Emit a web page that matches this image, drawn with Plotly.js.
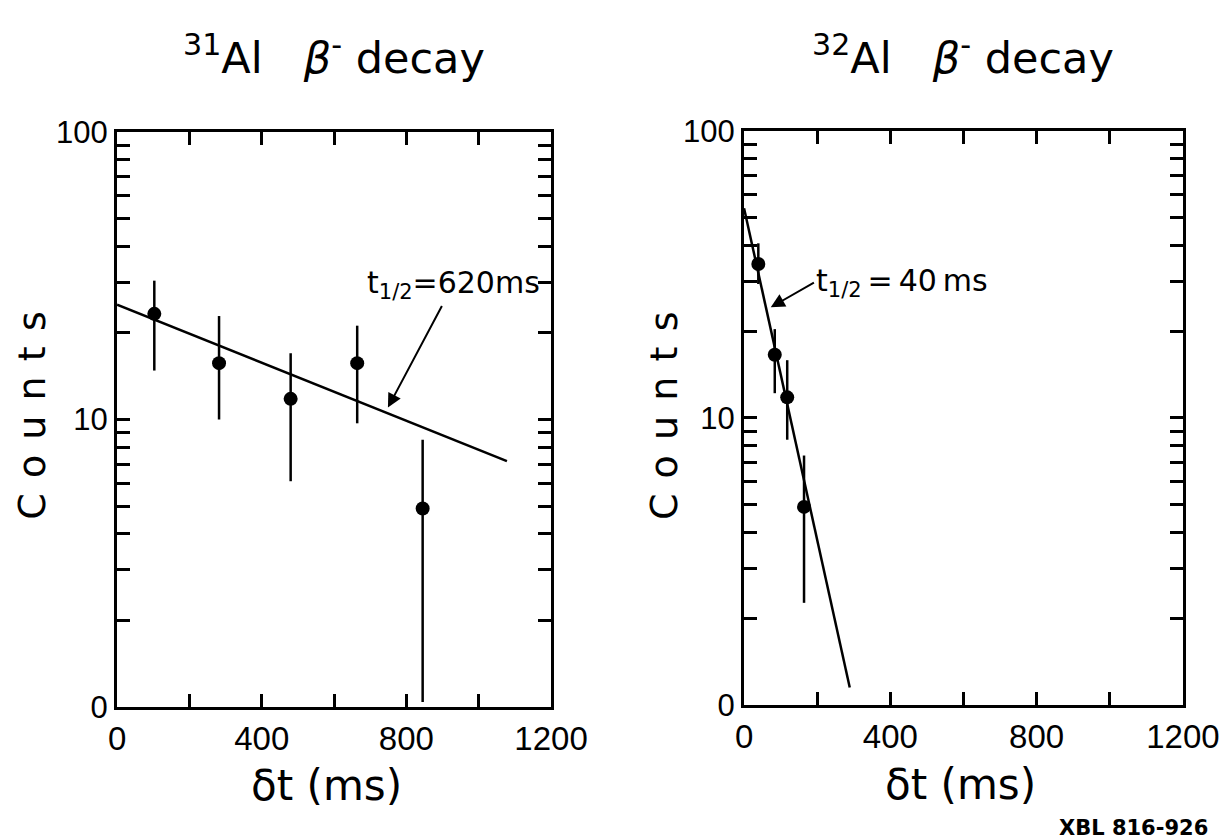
<!DOCTYPE html>
<html>
<head>
<meta charset="utf-8">
<script src="https://cdn.plot.ly/plotly-3.0.1.min.js"></script>
<style>
html,body{margin:0;padding:0;background:#fff;}
#chart{width:1227px;height:839px;}
</style>
</head>
<body>
<div id="chart"></div>
<script>
// ---- data ----
// 31Al panel
const al31X = [103, 282, 480, 664, 845];
const al31Y = [23.3, 15.7, 11.8, 15.7, 4.9];
const al31Hi = [30.4, 22.9, 17.0, 21.2, 8.5];
const al31Lo = [14.8, 10.0, 6.1, 9.7, 1.04];
const al31FitX = [0, 1078];
const al31FitY = [25.1, 7.17];

// 32Al panel
const al32X = [39, 84, 118, 164];
const al32Y = [34.4, 16.6, 11.8, 4.9];
const al32Hi = [40.6, 20.4, 15.9, 7.4];
const al32Lo = [29.3, 12.2, 8.4, 2.27];
const al32FitX = [0, 289];
const al32FitY = [53.8, 1.15];

// axis ticks
const xTickVals = [0, 400, 800, 1200];
const xTickText = ["0", "400", "800", "1200"];
const xMinorVals = [200, 600, 1000];
const yTickVals = [1, 10, 100];
const yTickText = ["0", "10", "100"];
const yMinorVals = [2, 3, 4, 5, 6, 7, 8, 9, 20, 30, 40, 50, 60, 70, 80, 90];

const TICKFONT = "Liberation Sans, Arial, sans-serif";
const FONT = "DejaVu Sans, sans-serif";

function errPlus(y, hi) { return y.map((v, i) => hi[i] - v); }
function errMinus(y, lo) { return y.map((v, i) => v - lo[i]); }

const traces = [
  {x: al31FitX, y: al31FitY, mode: 'lines', line: {color: '#000', width: 2.5}, xaxis: 'x', yaxis: 'y', hoverinfo: 'skip'},
  {x: al31X, y: al31Y, mode: 'markers', marker: {color: '#000', size: 14},
   error_y: {type: 'data', symmetric: false, array: errPlus(al31Y, al31Hi), arrayminus: errMinus(al31Y, al31Lo), width: 0, thickness: 2.5, color: '#000'},
   xaxis: 'x', yaxis: 'y'},
  {x: al32FitX, y: al32FitY, mode: 'lines', line: {color: '#000', width: 2.5}, xaxis: 'x2', yaxis: 'y2', hoverinfo: 'skip'},
  {x: al32X, y: al32Y, mode: 'markers', marker: {color: '#000', size: 14},
   error_y: {type: 'data', symmetric: false, array: errPlus(al32Y, al32Hi), arrayminus: errMinus(al32Y, al32Lo), width: 0, thickness: 2.5, color: '#000'},
   xaxis: 'x2', yaxis: 'y2'}
];

function xAxis(domain, anchor) {
  return {
    domain: domain, anchor: anchor, range: [0, 1200], type: 'linear',
    showline: true, linecolor: '#000', linewidth: 3, mirror: 'ticks',
    ticks: 'inside', ticklen: 13, tickwidth: 3, tickcolor: '#000',
    tickmode: 'array', tickvals: xTickVals, ticktext: xTickText,
    tickfont: {family: TICKFONT, size: 33, color: '#000'},
    showgrid: false, zeroline: false, automargin: false,
    minor: {tickmode: 'array', tickvals: xMinorVals, ticks: 'inside', ticklen: 13, tickwidth: 3, tickcolor: '#000', showgrid: false}
  };
}
function yAxis(domain, anchor) {
  return {
    domain: domain, anchor: anchor, type: 'log', range: [0, 2],
    showline: true, linecolor: '#000', linewidth: 3, mirror: 'ticks',
    ticks: 'inside', ticklen: 13, tickwidth: 3, tickcolor: '#000',
    tickmode: 'array', tickvals: yTickVals, ticktext: yTickText,
    tickfont: {family: TICKFONT, size: 31, color: '#000'},
    showgrid: false, zeroline: false, automargin: false,
    minor: {tickmode: 'array', tickvals: yMinorVals, ticks: 'inside', ticklen: 13, tickwidth: 3, tickcolor: '#000', showgrid: false}
  };
}

const NB = '\u00a0';
const TH = '\u2009';
const counts = ['C', 'o', 'u', 'n', 't', 's'].join(TH + TH);
const annotations = [
  {xref: 'paper', yref: 'paper', x: 0.272, y: 0.934, xanchor: 'center', yanchor: 'middle', showarrow: false,
   text: '<sup>31</sup>Al' + NB + NB + NB + '<i>β</i><sup>-</sup>' + NB + 'decay', font: {family: FONT, size: 43, color: '#000'}},
  {xref: 'paper', yref: 'paper', x: 0.785, y: 0.934, xanchor: 'center', yanchor: 'middle', showarrow: false,
   text: '<sup>32</sup>Al' + NB + NB + NB + '<i>β</i><sup>-</sup>' + NB + 'decay', font: {family: FONT, size: 43, color: '#000'}},
  {xref: 'paper', yref: 'paper', x: 0.0265, y: 0.505, xanchor: 'center', yanchor: 'middle', showarrow: false, textangle: -90,
   text: counts, font: {family: FONT, size: 38, color: '#000'}},
  {xref: 'paper', yref: 'paper', x: 0.541, y: 0.505, xanchor: 'center', yanchor: 'middle', showarrow: false, textangle: -90,
   text: counts, font: {family: FONT, size: 38, color: '#000'}},
  {xref: 'paper', yref: 'paper', x: 0.2665, y: 0.0632, xanchor: 'center', yanchor: 'middle', showarrow: false,
   text: 'δt' + NB + '(ms)', font: {family: FONT, size: 42, color: '#000'}},
  {xref: 'paper', yref: 'paper', x: 0.7824, y: 0.0644, xanchor: 'center', yanchor: 'middle', showarrow: false,
   text: 'δt' + NB + '(ms)', font: {family: FONT, size: 42, color: '#000'}},
  {xref: 'paper', yref: 'paper', x: 0.9234, y: 0.0131, xanchor: 'center', yanchor: 'middle', showarrow: false,
   text: '<b>XBL' + NB + '816-926</b>', font: {family: FONT, size: 21, color: '#000'}},
  // half-life labels with arrows
  {xref: 'x', yref: 'y', axref: 'x', ayref: 'y', x: 749, y: Math.log10(11.0), ax: 929, ay: 1.468,
   xanchor: 'center', yanchor: 'middle',
   text: 't<sub>1/2</sub>=620ms', font: {family: FONT, size: 30, color: '#000'},
   showarrow: true, arrowhead: 2, arrowsize: 1.4, arrowwidth: 2, arrowcolor: '#000', standoff: 0, startstandoff: 0},
  {xref: 'x2', yref: 'y2', axref: 'x2', ayref: 'y2', x: 73, y: Math.log10(24.3), ax: 191, ay: Math.log10(29.6),
   xanchor: 'left', yanchor: 'middle',
   text: 't<sub>1/2</sub>' + TH + '=' + TH + '40' + TH + 'ms', font: {family: FONT, size: 30, color: '#000'},
   showarrow: true, arrowhead: 2, arrowsize: 1.4, arrowwidth: 2, arrowcolor: '#000', standoff: 0, startstandoff: 0}
];

const layout = {
  width: 1227, height: 839,
  margin: {l: 0, r: 0, t: 0, b: 0},
  paper_bgcolor: '#fff', plot_bgcolor: '#fff',
  showlegend: false,
  font: {family: FONT, color: '#000'},
  xaxis: xAxis([0.0954, 0.4491], 'y'),
  yaxis: yAxis([0.1573, 0.8427], 'x'),
  xaxis2: xAxis([0.6064, 0.9641], 'y2'),
  yaxis2: yAxis([0.1597, 0.8439], 'x2'),
  annotations: annotations
};

Plotly.newPlot('chart', traces, layout, {staticPlot: true, displayModeBar: false});
</script>
</body>
</html>
